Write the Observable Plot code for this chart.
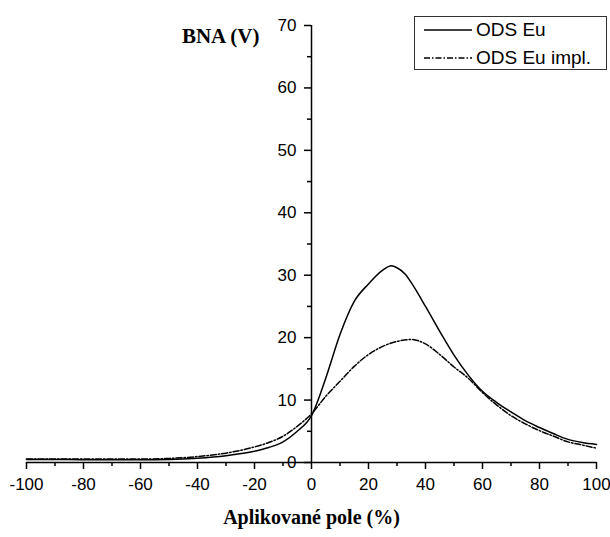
<!DOCTYPE html>
<html><head><meta charset="utf-8">
<script src="https://cdn.jsdelivr.net/npm/d3@7"></script>
<script src="https://cdn.jsdelivr.net/npm/@observablehq/plot@0.6"></script>
<style>
body{margin:0;background:#fff;}
#wrap{position:relative;width:610px;height:537px;overflow:hidden;}
#legend{position:absolute;left:414px;top:16px;width:191px;height:52px;border:1px solid #333;background:#fff;font-family:"Liberation Sans",Arial,sans-serif;font-size:19px;color:#000;}
.row{position:absolute;left:9px;height:26px;display:flex;align-items:center;white-space:nowrap;}
.row svg{margin-right:4px;}
</style></head>
<body><div id="wrap"><div id="legend"></div></div>
<script>
const seriesNames = ["ODS Eu", "ODS Eu impl."];
const xSolid = [-100,-90,-80,-70,-60,-50,-40,-30,-20,-15,-10,-5,0,5,10,15,20,25,28,30,33,35,40,45,50,55,60,65,70,75,80,85,90,95,100];
const ySolid = [0.5,0.5,0.45,0.45,0.45,0.5,0.7,1.1,1.8,2.4,3.3,5.0,7.5,13.5,20.5,25.8,28.6,30.8,31.5,31.2,30.1,28.8,25.0,21.0,17.2,14.0,11.4,9.6,8.1,6.7,5.6,4.6,3.7,3.2,2.9];
const xImpl = [-100,-90,-80,-70,-60,-50,-40,-30,-20,-15,-10,-5,0,5,10,15,20,25,30,35,40,45,50,55,60,65,70,75,80,85,90,95,100];
const yImpl = [0.55,0.55,0.55,0.55,0.55,0.65,0.95,1.5,2.5,3.2,4.2,5.8,7.8,10.6,13.0,15.4,17.3,18.6,19.4,19.7,19.0,17.3,15.3,13.5,11.2,9.2,7.5,6.2,5.1,4.2,3.3,2.8,2.3];
const xTicks = [-100,-80,-60,-40,-20,0,20,40,60,80,100];
const xMinor = [-90,-70,-50,-30,-10,10,30,50,70,90];
const yTicks = [0,10,20,30,40,50,60,70];
const yMinor = [5,15,25,35,45,55,65];
const xTitle = "Aplikované pole (%)";
const yTitle = "BNA (V)";

const solidRows = xSolid.map((x, i) => ({x, y: ySolid[i], s: seriesNames[0]}));
const implRows = xImpl.map((x, i) => ({x, y: yImpl[i], s: seriesNames[1]}));
const dash = "6,2,1.5,2";
const serif = "'Liberation Serif','Times New Roman',serif";

const chart = Plot.plot({
  width: 610, height: 537,
  marginLeft: 26, marginRight: 14, marginTop: 25, marginBottom: 75,
  x: {domain: [xTicks[0], xTicks[xTicks.length - 1]], axis: null},
  y: {domain: [yTicks[0], yTicks[yTicks.length - 1]], axis: null},
  style: {fontFamily: "'Liberation Sans',Arial,sans-serif", fontSize: "17px", color: "black", background: "white"},
  marks: [
    Plot.ruleY([yTicks[0]], {stroke: "black", strokeWidth: 1.5}),
    Plot.ruleX([0], {y1: () => yTicks[0], y2: () => yTicks[yTicks.length - 1], stroke: "black", strokeWidth: 1.5}),
    Plot.axisX(xTicks, {tickSize: 7, tickPadding: 8, fontSize: 17, strokeWidth: 1.5, tickFormat: d => String(d), label: null}),
    Plot.axisX(xMinor, {tickSize: 4, tickFormat: () => "", strokeWidth: 1.5, label: null}),
    Plot.ruleY(yTicks, {x1: () => 0, x2: () => 0, insetLeft: -7, stroke: "black", strokeWidth: 1.5}),
    Plot.ruleY(yMinor, {x1: () => 0, x2: () => 0, insetLeft: -4, stroke: "black", strokeWidth: 1.5}),
    Plot.text(yTicks, {x: () => 0, y: d => d, text: d => String(d), textAnchor: "end", dx: -15, fontSize: 17}),
    Plot.line(solidRows, {x: "x", y: "y", stroke: "black", strokeWidth: 1.5, curve: "monotone-x"}),
    Plot.line(implRows, {x: "x", y: "y", stroke: "black", strokeWidth: 1.5, strokeDasharray: dash, curve: "monotone-x"}),
    Plot.text([xTitle], {frameAnchor: "bottom", dy: 61, fontFamily: serif, fontWeight: "bold", fontSize: 20}),
    Plot.text([yTitle], {frameAnchor: "top", dx: -52, dy: 3, textAnchor: "end", fontFamily: serif, fontWeight: "bold", fontSize: 21})
  ]
});
const wrap = document.getElementById("wrap");
wrap.insertBefore(chart, wrap.firstChild);

const legend = document.getElementById("legend");
const styles = [null, dash];
seriesNames.forEach((name, i) => {
  const row = document.createElement("div");
  row.className = "row";
  row.style.top = (i * 28) + "px";
  const sw = d3.create("svg").attr("width", 48).attr("height", 10);
  sw.append("line").attr("x1", 0).attr("x2", 48).attr("y1", 5).attr("y2", 5)
    .attr("stroke", "black").attr("stroke-width", 1.5).attr("stroke-dasharray", styles[i]);
  row.appendChild(sw.node());
  const t = document.createElement("span");
  t.textContent = name;
  row.appendChild(t);
  legend.appendChild(row);
});
</script>
</body></html>
